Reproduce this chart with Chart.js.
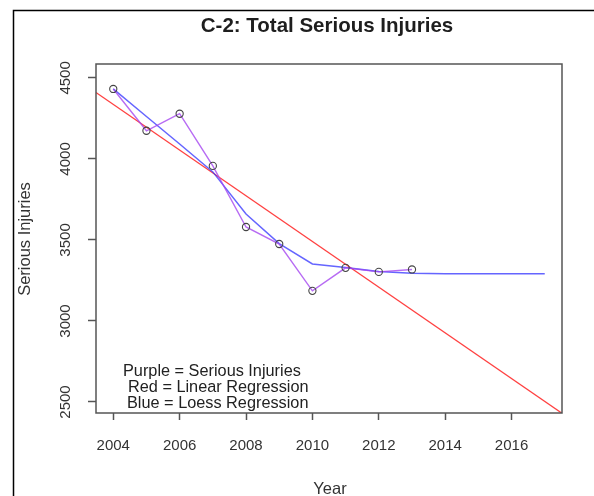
<!DOCTYPE html>
<html lang="en">
<head>
    <meta charset="UTF-8">
    <title>C-2: Total Serious Injuries</title>
    <script src="https://cdn.jsdelivr.net/npm/chart.js"></script>
    <style>
        html, body {
            margin: 0;
            padding: 0;
            background: #ffffff;
        }

        #wrap {
            width: 594px;
            height: 496px;
        }
    </style>
</head>
<body>
    <div id="wrap"><canvas id="myChart" width="594" height="496"></canvas></div>

    <script>
        // observed values
        const years = [2004, 2005, 2006, 2007, 2008, 2009, 2010, 2011, 2012, 2013];
        const injuries = [4432, 4174, 4279, 3957, 3580, 3475, 3186, 3328, 3303, 3318];

        // loess curve
        const loessYears = [2004, 2005, 2006, 2007, 2008, 2009, 2010, 2011, 2012, 2013, 2014, 2015, 2016, 2017];
        const loessValues = [4432, 4262, 4092, 3920, 3660, 3478, 3352, 3330, 3305, 3295, 3292, 3291, 3291, 3291];

        // linear regression line, ends read at the plot edges
        const linearYears = [2003.48, 2017.52];
        const linearValues = [4410, 2430];

        const xTicks = [2004, 2006, 2008, 2010, 2012, 2014, 2016];
        const yTicks = [2500, 3000, 3500, 4000, 4500];

        const legendLines = ['Purple = Serious Injuries', 'Red = Linear Regression', 'Blue = Loess Regression'];
        const legendIndent = [123, 128, 127];

        const toPoints = (xs, ys) => xs.map((x, i) => ({ x: x, y: ys[i] }));

        const fontFace = '"Liberation Sans", Arial, sans-serif';

        // title, axis titles, rotated y labels, legend text, frames
        const decorations = {
            id: 'decorations',
            afterDraw(chart) {
                const ctx = chart.ctx;
                const area = chart.chartArea;
                const yScale = chart.scales.y;

                ctx.save();

                // outer frame (left and top edges visible)
                ctx.strokeStyle = '#000000';
                ctx.lineWidth = 1.5;
                ctx.beginPath();
                ctx.moveTo(13.5, 496);
                ctx.lineTo(13.5, 10.5);
                ctx.lineTo(594, 10.5);
                ctx.stroke();

                // plot box
                ctx.strokeStyle = '#555555';
                ctx.lineWidth = 1.5;
                ctx.strokeRect(area.left, area.top, area.right - area.left, area.bottom - area.top);

                // title
                ctx.fillStyle = '#1e1e1e';
                ctx.font = 'bold 20.5px ' + fontFace;
                ctx.textAlign = 'center';
                ctx.textBaseline = 'middle';
                ctx.fillText('C-2: Total Serious Injuries', 327, 26);

                // x axis title
                ctx.fillStyle = '#333333';
                ctx.font = '16.5px ' + fontFace;
                ctx.fillText('Year', 330, 489);

                // y axis title
                ctx.save();
                ctx.translate(25, 239);
                ctx.rotate(-Math.PI / 2);
                ctx.fillText('Serious Injuries', 0, 0);
                ctx.restore();

                // y tick labels, parallel to the axis
                ctx.font = '15px ' + fontFace;
                yTicks.forEach(v => {
                    const py = yScale.getPixelForValue(v);
                    ctx.save();
                    ctx.translate(66, py);
                    ctx.rotate(-Math.PI / 2);
                    ctx.fillText(String(v), 0, 0);
                    ctx.restore();
                });

                // legend text
                ctx.textAlign = 'left';
                ctx.fillStyle = '#222222';
                ctx.font = '16.3px ' + fontFace;
                legendLines.forEach((line, i) => {
                    ctx.fillText(line, legendIndent[i], 372 + i * 15.7);
                });

                ctx.restore();
            }
        };

        const ctx = document.getElementById('myChart').getContext('2d');

        const chart = new Chart(ctx, {
            type: 'scatter',
            data: {
                datasets: [
                    {
                        label: 'Linear Regression',
                        data: toPoints(linearYears, linearValues),
                        showLine: true,
                        borderColor: 'rgba(255, 30, 30, 0.85)',
                        borderWidth: 1.2,
                        pointRadius: 0,
                        fill: false,
                        order: 3
                    },
                    {
                        label: 'Loess Regression',
                        data: toPoints(loessYears, loessValues),
                        showLine: true,
                        borderColor: 'rgba(50, 50, 255, 0.75)',
                        borderWidth: 1.5,
                        pointRadius: 0,
                        fill: false,
                        order: 2
                    },
                    {
                        label: 'Serious Injuries',
                        data: toPoints(years, injuries),
                        showLine: true,
                        borderColor: 'rgba(165, 70, 240, 0.8)',
                        borderWidth: 1.4,
                        pointRadius: 3.6,
                        pointBorderColor: '#444444',
                        pointBackgroundColor: 'rgba(0,0,0,0)',
                        pointBorderWidth: 1.1,
                        fill: false,
                        order: 1
                    }
                ]
            },
            options: {
                responsive: false,
                animation: false,
                layout: {
                    padding: { left: 0, top: 64, right: 32, bottom: 0 }
                },
                plugins: {
                    legend: { display: false },
                    tooltip: { enabled: false }
                },
                scales: {
                    x: {
                        type: 'linear',
                        min: 2003.48,
                        max: 2017.52,
                        afterBuildTicks: scale => {
                            scale.ticks = xTicks.map(v => ({ value: v }));
                        },
                        afterFit: scale => {
                            scale.height = 83;
                        },
                        grid: {
                            drawOnChartArea: false,
                            drawTicks: true,
                            tickLength: 7,
                            tickWidth: 1.5,
                            tickColor: '#555555'
                        },
                        border: { display: false },
                        ticks: {
                            color: '#333333',
                            font: { family: fontFace, size: 15 },
                            padding: 17,
                            maxRotation: 0,
                            callback: v => String(v)
                        }
                    },
                    y: {
                        type: 'linear',
                        min: 2432,
                        max: 4586,
                        afterBuildTicks: scale => {
                            scale.ticks = yTicks.map(v => ({ value: v }));
                        },
                        afterFit: scale => {
                            scale.width = 96;
                        },
                        grid: {
                            drawOnChartArea: false,
                            drawTicks: true,
                            tickLength: 8,
                            tickWidth: 1.5,
                            tickColor: '#555555'
                        },
                        border: { display: false },
                        ticks: {
                            display: false
                        }
                    }
                }
            },
            plugins: [decorations]
        });
    </script>
</body>
</html>
